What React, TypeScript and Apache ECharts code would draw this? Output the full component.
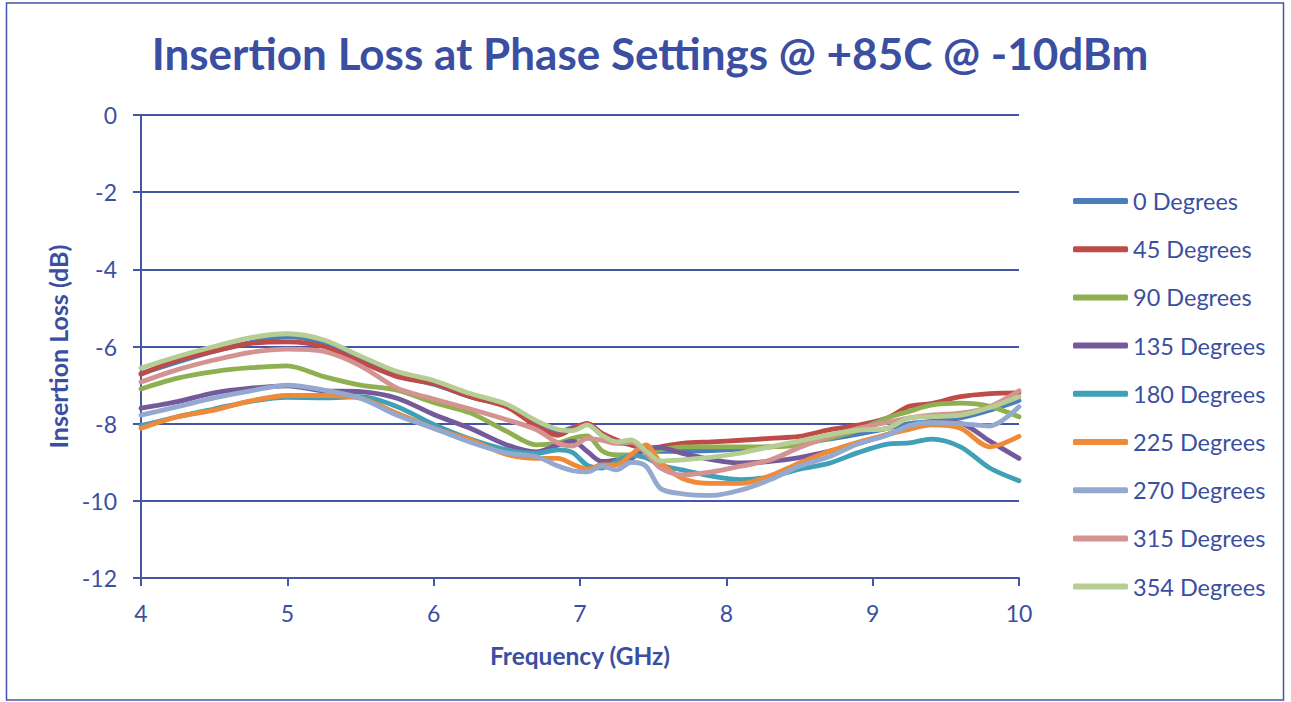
import React, { useEffect, useRef } from "react";
import * as echarts from "echarts";

const FREQ = [4.0, 4.25, 4.5, 4.75, 5.0, 5.25, 5.5, 5.75, 6.0, 6.25, 6.5, 6.7, 6.85, 6.95, 7.05, 7.15, 7.25, 7.35, 7.45, 7.55, 7.7, 7.9, 8.1, 8.3, 8.5, 8.7, 8.9, 9.1, 9.25, 9.4, 9.6, 9.8, 10.0];

const DEG_0 = [-6.7, -6.4, -6.12, -5.9, -5.75, -5.9, -6.33, -6.75, -6.98, -7.3, -7.55, -8.02, -8.22, -8.1, -8.02, -8.3, -8.48, -8.55, -8.68, -8.72, -8.72, -8.7, -8.66, -8.6, -8.52, -8.4, -8.27, -8.12, -8.0, -7.95, -7.85, -7.65, -7.4];
const DEG_45 = [-6.72, -6.35, -6.12, -5.92, -5.88, -6.0, -6.4, -6.78, -6.96, -7.3, -7.57, -8.06, -8.3, -8.12, -7.99, -8.25, -8.42, -8.55, -8.65, -8.6, -8.51, -8.47, -8.43, -8.38, -8.33, -8.16, -8.04, -7.85, -7.55, -7.48, -7.3, -7.22, -7.2];
const DEG_90 = [-7.1, -6.82, -6.65, -6.55, -6.5, -6.78, -7.0, -7.13, -7.45, -7.72, -8.2, -8.55, -8.5, -8.38, -8.32, -8.7, -8.81, -8.81, -8.72, -8.68, -8.6, -8.6, -8.6, -8.6, -8.55, -8.38, -8.17, -7.85, -7.68, -7.52, -7.47, -7.55, -7.82];
const DEG_135 = [-7.6, -7.43, -7.2, -7.08, -7.02, -7.15, -7.17, -7.34, -7.76, -8.12, -8.55, -8.73, -8.55, -8.45, -8.72, -8.98, -8.94, -8.9, -8.65, -8.62, -8.77, -8.93, -9.02, -8.98, -8.88, -8.72, -8.52, -8.28, -8.1, -7.95, -7.99, -8.45, -8.9];
const DEG_180 = [-8.05, -7.82, -7.62, -7.42, -7.32, -7.33, -7.3, -7.56, -8.02, -8.4, -8.68, -8.77, -8.68, -8.75, -9.08, -9.15, -8.98, -8.82, -8.88, -9.07, -9.2, -9.36, -9.45, -9.38, -9.18, -9.03, -8.75, -8.53, -8.5, -8.4, -8.6, -9.15, -9.48];
const DEG_225 = [-8.12, -7.82, -7.65, -7.41, -7.27, -7.27, -7.34, -7.73, -8.12, -8.42, -8.8, -8.9, -8.9, -9.05, -9.18, -9.07, -9.07, -8.8, -8.55, -9.0, -9.42, -9.55, -9.55, -9.35, -9.02, -8.72, -8.48, -8.28, -8.15, -8.03, -8.12, -8.6, -8.33];
const DEG_270 = [-7.78, -7.56, -7.33, -7.15, -7.0, -7.13, -7.34, -7.78, -8.12, -8.48, -8.76, -8.85, -9.1, -9.22, -9.25, -9.1, -9.2, -9.0, -9.1, -9.68, -9.82, -9.86, -9.72, -9.45, -9.1, -8.86, -8.52, -8.3, -8.05, -7.97, -8.0, -8.06, -7.56];
const DEG_315 = [-6.92, -6.6, -6.35, -6.15, -6.07, -6.13, -6.5, -7.08, -7.36, -7.62, -7.9, -8.15, -8.5, -8.58, -8.38, -8.43, -8.51, -8.48, -8.75, -9.15, -9.33, -9.25, -9.1, -8.94, -8.62, -8.34, -8.12, -7.97, -7.85, -7.78, -7.73, -7.56, -7.15];
const DEG_354 = [-6.56, -6.26, -6.0, -5.77, -5.67, -5.83, -6.25, -6.65, -6.88, -7.22, -7.5, -7.92, -8.15, -8.18, -8.03, -8.3, -8.47, -8.42, -8.7, -8.97, -8.94, -8.87, -8.76, -8.6, -8.45, -8.29, -8.17, -8.12, -7.85, -7.82, -7.78, -7.58, -7.3];

const SERIES_NAMES = ["0 Degrees", "45 Degrees", "90 Degrees", "135 Degrees", "180 Degrees", "225 Degrees", "270 Degrees", "315 Degrees", "354 Degrees"];
const SERIES_VALUES = [DEG_0, DEG_45, DEG_90, DEG_135, DEG_180, DEG_225, DEG_270, DEG_315, DEG_354];
const COLORS = ["#4A7EBB", "#BE4B48", "#8FB050", "#745A9A", "#3FA0B8", "#EE8A38", "#93A9CF", "#D49290", "#B6CD93"];

const TITLE = "Insertion Loss at Phase Settings @ +85C @ -10dBm";
const X_NAME = "Frequency (GHz)";
const Y_NAME = "Insertion Loss (dB)";

const TEXT_BLUE = "#3B4FA2";
const LINE_BLUE = "#4356A8";
const FONT = "Lato, 'Open Sans', sans-serif";

export default function App() {
  const ref = useRef<HTMLDivElement>(null);

  useEffect(() => {
    if (!ref.current) return;
    const chart = echarts.init(ref.current, null, { renderer: "svg" });
    const series = SERIES_NAMES.map((name, i) => ({
      name,
      type: "line",
      data: FREQ.map((f, j) => [f, SERIES_VALUES[i][j]]),
      smooth: 0.3,
      symbol: "none",
      lineStyle: { width: 4.8, color: COLORS[i], cap: "round", join: "round" },
      itemStyle: { color: COLORS[i] },
    }));
    chart.setOption({
      animation: false,
      backgroundColor: "#ffffff",
      textStyle: { fontFamily: FONT },
      title: {
        text: TITLE,
        left: 650,
        textAlign: "center",
        top: 31,
        padding: 0,
        textStyle: { color: TEXT_BLUE, fontSize: 44, fontWeight: "bold", fontFamily: FONT },
      },
      graphic: [
        {
          type: "rect",
          shape: { x: 6.5, y: 3, width: 1277, height: 697 },
          style: { fill: "none", stroke: LINE_BLUE, lineWidth: 1.5 },
          silent: true,
        },
      ],
      legend: {
        orient: "vertical",
        left: 1073,
        top: 188,
        padding: 0,
        icon: "roundRect",
        itemWidth: 55,
        itemHeight: 6,
        itemGap: 22.2,
        data: SERIES_NAMES,
        textStyle: { color: TEXT_BLUE, fontSize: 23.5, lineHeight: 26, fontFamily: FONT },
      },
      grid: { left: 141, top: 115, width: 878, height: 463, containLabel: false },
      xAxis: {
        type: "value",
        min: 4,
        max: 10,
        interval: 1,
        name: X_NAME,
        nameLocation: "middle",
        nameGap: 65,
        nameTextStyle: { color: TEXT_BLUE, fontSize: 24.5, fontWeight: "bold", fontFamily: FONT },
        axisLine: { show: true, onZero: false, lineStyle: { color: LINE_BLUE, width: 2 } },
        axisTick: { show: true, inside: false, length: 8, lineStyle: { color: LINE_BLUE, width: 2 } },
        axisLabel: { color: TEXT_BLUE, fontSize: 23, margin: 23, fontFamily: FONT },
        splitLine: { show: false },
      },
      yAxis: {
        type: "value",
        min: -12,
        max: 0,
        interval: 2,
        name: Y_NAME,
        nameLocation: "middle",
        nameGap: 68,
        nameTextStyle: { color: TEXT_BLUE, fontSize: 25, fontWeight: "bold", fontFamily: FONT },
        axisLine: { show: true, lineStyle: { color: LINE_BLUE, width: 2 } },
        axisTick: { show: true, inside: false, length: 8, lineStyle: { color: LINE_BLUE, width: 2 } },
        axisLabel: { color: TEXT_BLUE, fontSize: 23, margin: 24, fontFamily: FONT },
        splitLine: { show: true, lineStyle: { color: LINE_BLUE, width: 2 } },
      },
      series,
    });
    return () => chart.dispose();
  }, []);

  return (
    <div
      ref={ref}
      style={{ position: "fixed", left: 0, top: 0, width: 1291, height: 702, background: "#ffffff" }}
    />
  );
}
